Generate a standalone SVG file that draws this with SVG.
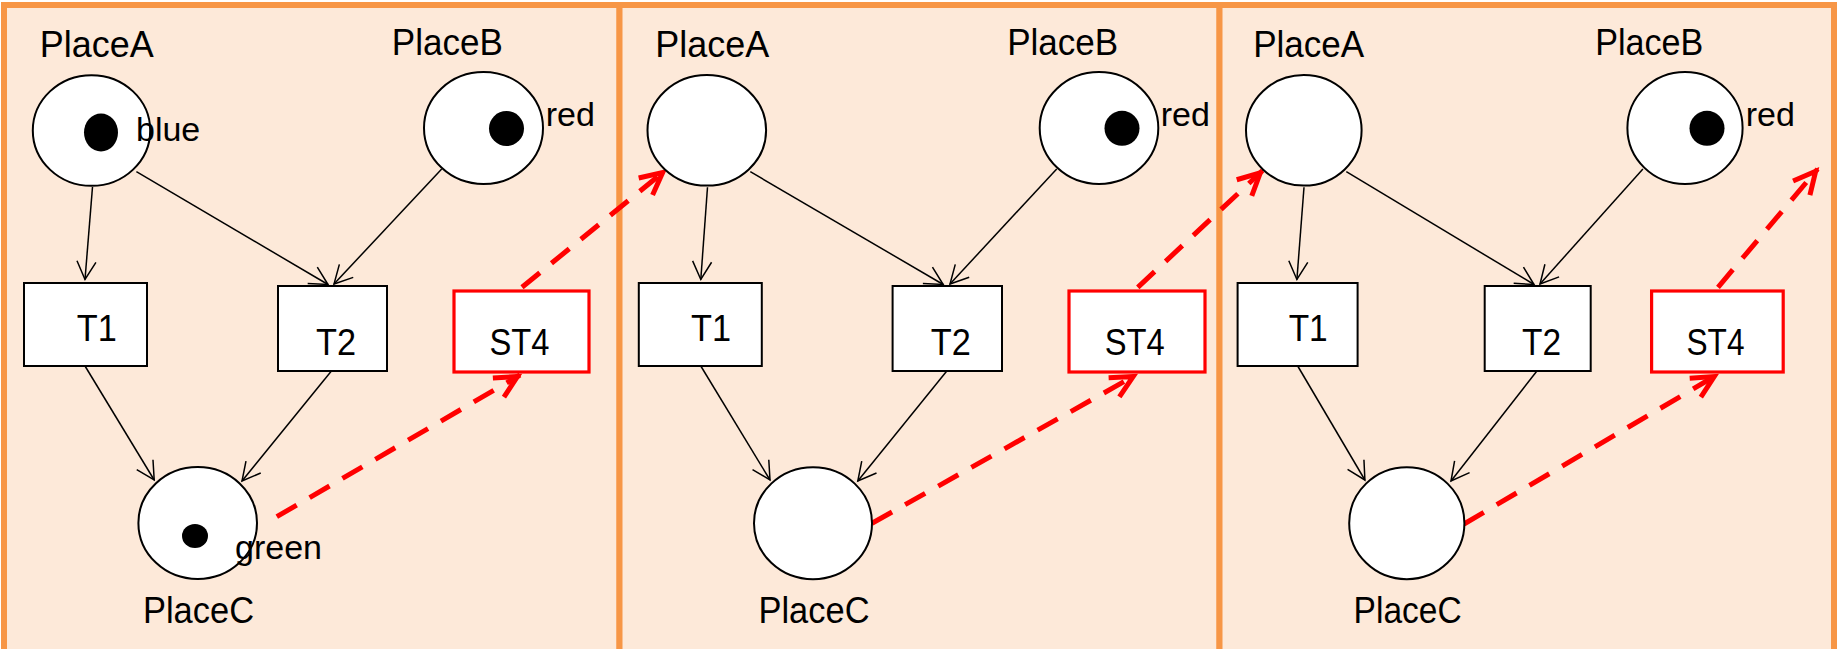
<svg xmlns="http://www.w3.org/2000/svg" width="1837" height="649" viewBox="0 0 1837 649">
  <style>
    .panel { fill: #FDE9D9; stroke: #F79646; stroke-width: 6; }
    .place { fill: #FFFFFF; stroke: #000000; stroke-width: 2; }
    .token { fill: #000000; }
    .trans { fill: #FFFFFF; stroke: #000000; stroke-width: 2; }
    .strans { fill: #FFFFFF; stroke: #FF0000; stroke-width: 3.2; }
    .arc { stroke: #000000; stroke-width: 1.5; fill: none; marker-end: url(#open); }
    .sim { stroke: #FF0000; stroke-width: 5; fill: none; stroke-dasharray: 23 15; marker-end: url(#redhead); }
    text { font-family: "Liberation Sans", Arial, sans-serif; fill: #000000; }
    .pname { font-size: 37.5px; text-anchor: middle; }
    .tname { font-size: 36px; text-anchor: middle; }
    .color { font-size: 34px; }
  </style>
  <defs>
    <marker id="open" markerUnits="userSpaceOnUse" viewBox="-24 -14 28 28" refX="0" refY="0" markerWidth="28" markerHeight="28" orient="auto">
      <path d="M-18,-9.5 L0,0 L-18,9.5" fill="none" stroke="#000000" stroke-width="1.5"/>
    </marker>
    <marker id="redhead" markerUnits="userSpaceOnUse" viewBox="-30 -18 36 36" refX="0" refY="0" markerWidth="36" markerHeight="36" orient="auto">
      <path d="M-25,-11 L-3,0 L-25,11" fill="none" stroke="#FF0000" stroke-width="5" stroke-linejoin="miter"/>
    </marker>
  </defs>

  <!-- frames of the three snapshots -->
  <g id="frames">
    <rect x="0" y="0" width="1837" height="649" fill="#FFFFFF"/>
    <rect class="panel" x="4" y="5" width="615.5" height="650"/>
    <rect class="panel" x="619.5" y="5" width="600" height="650"/>
    <rect class="panel" x="1219.5" y="5" width="614.5" height="650"/>
  </g>

  <!-- arcs -->
  <g id="connectors">
    <line class="arc" x1="92.5" y1="187" x2="85" y2="279.5"/>
    <line class="arc" x1="136.4" y1="171.7" x2="328" y2="284.5"/>
    <line class="arc" x1="441.7" y1="169" x2="334" y2="284"/>
    <line class="arc" x1="85" y1="366" x2="154.2" y2="480"/>
    <line class="arc" x1="331.4" y1="371" x2="242" y2="481"/>

    <line class="arc" x1="707.5" y1="187.3" x2="700.8" y2="279.5"/>
    <line class="arc" x1="750.3" y1="171.7" x2="943.2" y2="284.5"/>
    <line class="arc" x1="1056.7" y1="169" x2="950" y2="284"/>
    <line class="arc" x1="700.8" y1="366" x2="770" y2="480"/>
    <line class="arc" x1="946.8" y1="371" x2="857.8" y2="481"/>

    <line class="arc" x1="1304" y1="187.3" x2="1296.9" y2="279.5"/>
    <line class="arc" x1="1346.3" y1="171.7" x2="1534" y2="284.5"/>
    <line class="arc" x1="1642.9" y1="169" x2="1540" y2="284"/>
    <line class="arc" x1="1297.7" y1="366" x2="1364.9" y2="480"/>
    <line class="arc" x1="1536.9" y1="371" x2="1451" y2="481"/>

    <line class="sim" x1="276.8" y1="516.7" x2="520" y2="375"/>
    <line class="sim" x1="522" y1="287.3" x2="665" y2="170.7"/>
    <line class="sim" x1="872" y1="523.3" x2="1135.8" y2="375"/>
    <line class="sim" x1="1137.8" y1="287.3" x2="1262.5" y2="170.7"/>
    <line class="sim" x1="1464" y1="524" x2="1716.8" y2="375"/>
    <line class="sim" x1="1718" y1="287.3" x2="1817.6" y2="169"/>
  </g>

  <!-- snapshot 1 -->
  <g id="s1-placeA">
    <text class="pname" x="96.8" y="57" textLength="114" lengthAdjust="spacingAndGlyphs">PlaceA</text>
    <ellipse class="place" cx="91.5" cy="130.5" rx="58.7" ry="55.3"/>
    <ellipse class="token" cx="101" cy="132.5" rx="17" ry="19"/>
    <text class="color" x="136" y="141">blue</text>
  </g>
  <g id="s1-placeB">
    <text class="pname" x="447.3" y="55" textLength="111" lengthAdjust="spacingAndGlyphs">PlaceB</text>
    <ellipse class="place" cx="483.5" cy="128" rx="59.5" ry="56"/>
    <ellipse class="token" cx="506.5" cy="128.5" rx="17.5" ry="17.5"/>
    <text class="color" x="545.7" y="125.7">red</text>
  </g>
  <g id="s1-placeC">
    <ellipse class="place" cx="197.7" cy="523" rx="59.3" ry="56"/>
    <ellipse class="token" cx="195" cy="536" rx="13" ry="12"/>
    <text class="color" x="235" y="559">green</text>
    <text class="pname" x="198.5" y="623" textLength="111" lengthAdjust="spacingAndGlyphs">PlaceC</text>
  </g>
  <g id="s1-T1">
    <rect class="trans" x="24" y="283" width="123" height="83"/>
    <text class="tname" x="96.8" y="340.7" textLength="40" lengthAdjust="spacingAndGlyphs">T1</text>
  </g>
  <g id="s1-T2">
    <rect class="trans" x="278" y="286" width="109" height="85"/>
    <text class="tname" x="336" y="355" textLength="40" lengthAdjust="spacingAndGlyphs">T2</text>
  </g>
  <g id="s1-ST4">
    <rect class="strans" x="454" y="291" width="135" height="81"/>
    <text class="tname" x="519.5" y="355" textLength="60" lengthAdjust="spacingAndGlyphs">ST4</text>
  </g>

  <!-- snapshot 2 -->
  <g id="s2-placeA">
    <text class="pname" x="712.3" y="57" textLength="114" lengthAdjust="spacingAndGlyphs">PlaceA</text>
    <ellipse class="place" cx="706.8" cy="130.3" rx="59.3" ry="55.3"/>
  </g>
  <g id="s2-placeB">
    <text class="pname" x="1062.7" y="55" textLength="111" lengthAdjust="spacingAndGlyphs">PlaceB</text>
    <ellipse class="place" cx="1099" cy="128" rx="59.3" ry="56"/>
    <ellipse class="token" cx="1122" cy="128.3" rx="17.5" ry="17.5"/>
    <text class="color" x="1160.7" y="125.7">red</text>
  </g>
  <g id="s2-placeC">
    <ellipse class="place" cx="813" cy="523.2" rx="59" ry="56"/>
    <text class="pname" x="814" y="623" textLength="111" lengthAdjust="spacingAndGlyphs">PlaceC</text>
  </g>
  <g id="s2-T1">
    <rect class="trans" x="638.8" y="283" width="123" height="83"/>
    <text class="tname" x="711.1" y="340.7" textLength="40" lengthAdjust="spacingAndGlyphs">T1</text>
  </g>
  <g id="s2-T2">
    <rect class="trans" x="892.6" y="286" width="109.4" height="85"/>
    <text class="tname" x="950.8" y="355" textLength="40" lengthAdjust="spacingAndGlyphs">T2</text>
  </g>
  <g id="s2-ST4">
    <rect class="strans" x="1069" y="291" width="136" height="81"/>
    <text class="tname" x="1134.8" y="355" textLength="60" lengthAdjust="spacingAndGlyphs">ST4</text>
  </g>

  <!-- snapshot 3 -->
  <g id="s3-placeA">
    <text class="pname" x="1308.7" y="57" textLength="111" lengthAdjust="spacingAndGlyphs">PlaceA</text>
    <ellipse class="place" cx="1303.8" cy="130.3" rx="57.8" ry="55.3"/>
  </g>
  <g id="s3-placeB">
    <text class="pname" x="1649.2" y="55" textLength="108" lengthAdjust="spacingAndGlyphs">PlaceB</text>
    <ellipse class="place" cx="1685" cy="128" rx="57.6" ry="56"/>
    <ellipse class="token" cx="1707" cy="128.3" rx="17.5" ry="17.5"/>
    <text class="color" x="1745.7" y="125.7">red</text>
  </g>
  <g id="s3-placeC">
    <ellipse class="place" cx="1406.8" cy="523.2" rx="57.6" ry="56"/>
    <text class="pname" x="1407.6" y="623" textLength="108" lengthAdjust="spacingAndGlyphs">PlaceC</text>
  </g>
  <g id="s3-T1">
    <rect class="trans" x="1237.6" y="283" width="120" height="83"/>
    <text class="tname" x="1308.2" y="340.7" textLength="39" lengthAdjust="spacingAndGlyphs">T1</text>
  </g>
  <g id="s3-T2">
    <rect class="trans" x="1484.7" y="286" width="106" height="85"/>
    <text class="tname" x="1541.5" y="355" textLength="39" lengthAdjust="spacingAndGlyphs">T2</text>
  </g>
  <g id="s3-ST4">
    <rect class="strans" x="1651.6" y="291" width="131.6" height="81"/>
    <text class="tname" x="1715.5" y="355" textLength="58" lengthAdjust="spacingAndGlyphs">ST4</text>
  </g>
</svg>
